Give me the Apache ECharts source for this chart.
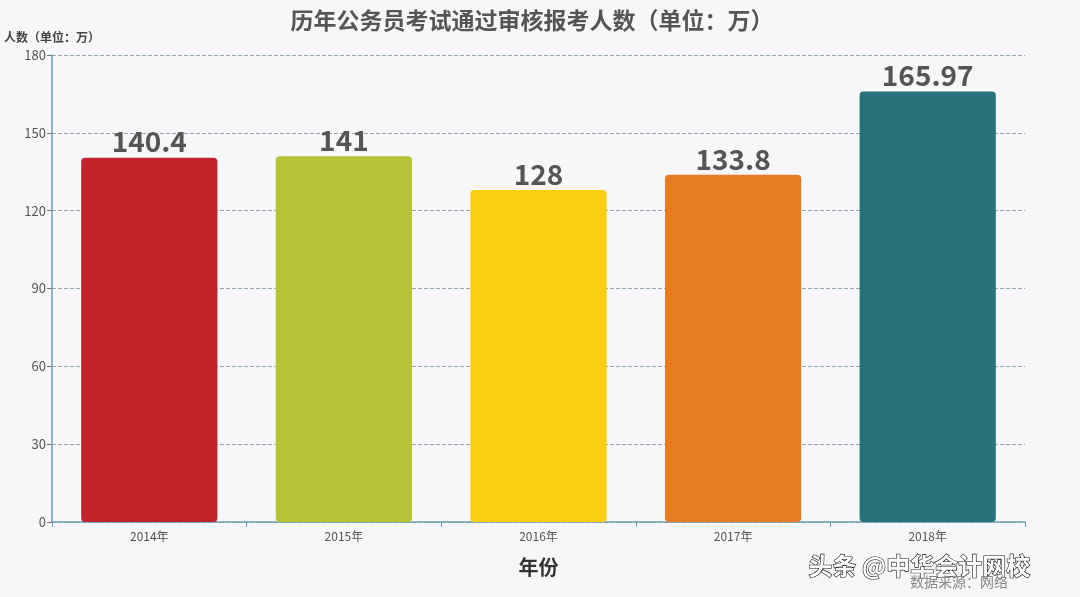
<!DOCTYPE html>
<html><head><meta charset="utf-8">
<script src="https://cdn.jsdelivr.net/npm/echarts@6/dist/echarts.min.js"></script>
<style>html,body{margin:0;padding:0;background:#f7f7f9;}#c{width:1080px;height:597px;}</style>
</head><body><div id="c"></div>
<script>
const categories = ['2014年','2015年','2016年','2017年','2018年'];
const values = [140.4, 141, 128, 133.8, 165.97];
const colors = ['#C1232B','#B5C334','#FCCE10','#E87C25','#27727B'];
const yTicks = [0,30,60,90,120,150,180];

const chart = echarts.init(document.getElementById('c'));
chart.setOption({
  backgroundColor:'#f7f7f9',
  animation:false,
  title:{text:'历年公务员考试通过审核报考人数（单位：万）',left:527,textAlign:'center',top:4,
    textStyle:{fontFamily:'Noto Sans CJK SC',fontSize:23,fontWeight:'bold',color:'#555'}},
  grid:{left:52,right:55,top:55,bottom:75},
  xAxis:{type:'category',data:categories,name:'年份',nameLocation:'middle',nameGap:35,
    nameTextStyle:{fontFamily:'Noto Sans CJK SC',fontSize:20,fontWeight:'bold',color:'#333'},
    axisLine:{lineStyle:{color:'#6f9db5',width:1.5}},
    axisTick:{show:true,alignWithLabel:false,lineStyle:{color:'#6f9db5'}},
    axisLabel:{fontFamily:'Noto Sans CJK SC',fontSize:12,color:'#555',margin:8}},
  yAxis:{type:'value',min:0,max:180,interval:30,name:'人数（单位：万）',nameLocation:'end',nameGap:12,
    nameTextStyle:{fontFamily:'Noto Sans CJK SC',fontSize:12,fontWeight:'bold',color:'#444',align:'center'},
    axisLine:{show:true,lineStyle:{color:'#8fb4c8',width:2}},
    axisTick:{show:true,lineStyle:{color:'#777'}},
    axisLabel:{fontFamily:'Noto Sans CJK SC',fontSize:13,color:'#555',margin:6,
      formatter:v=>yTicks.includes(v)?String(v):''},
    splitLine:{lineStyle:{type:'dashed',color:'#8fa9ae'}}},
  series:[{type:'bar',barCategoryGap:'30%',
    data:values.map((v,i)=>({value:v,itemStyle:{color:colors[i]}})),
    itemStyle:{borderRadius:4},
    label:{show:true,position:'top',distance:2,fontFamily:'Noto Sans CJK SC',fontSize:28,fontWeight:'bold',color:'#555'}}],
  graphic:[
    {type:'text',left:808,top:553,style:{text:'头条 @中华会计网校',font:'bold 24px "Noto Sans CJK SC"',fill:'#fff',stroke:'#111',lineWidth:1.2}},
    {type:'text',left:910,top:575,style:{text:'数据来源：网络',font:'14px "Noto Sans CJK SC"',fill:'#888'}}
  ]
});
</script></body></html>
